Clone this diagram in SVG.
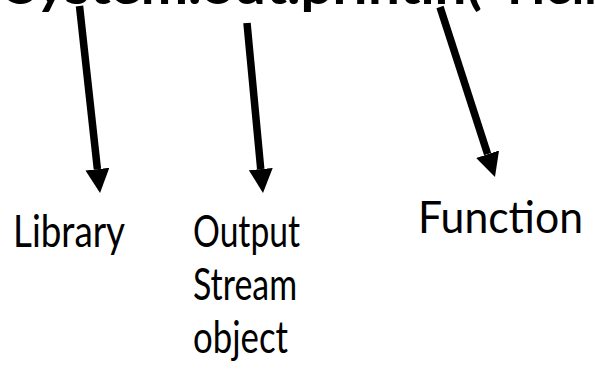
<svg xmlns="http://www.w3.org/2000/svg" width="595" height="372" viewBox="0 0 595 372">
<defs>
<style>
.code{font-family:Lato,"Open Sans","Liberation Sans",sans-serif;font-weight:bold;font-size:50px;fill:#000}
.lbl{font-family:Lato,"Open Sans","Liberation Sans",sans-serif;font-size:45px;fill:#000}
.conn{stroke:#000;stroke-width:7.5;fill:none;marker-end:url(#ah)}
</style>
<marker id="ah" viewBox="0 0 24 24" markerWidth="24" markerHeight="24" markerUnits="userSpaceOnUse" refX="0" refY="12" orient="auto">
<path d="M0,0 L24,12 L0,24 z" fill="#000"/>
</marker>
</defs>
<rect width="595" height="372" fill="#fff"/>
<g id="code">
<text class="code" x="6" y="4" textLength="476" lengthAdjust="spacingAndGlyphs">System.out.println(</text>
<text class="code" x="488" y="4">“Hello</text>
</g>
<g id="connectors">
<path class="conn" d="M79.5,6 L97.4,169.1"/>
<path class="conn" d="M247,23 L260.75,169.1"/>
<path class="conn" d="M440,7 L487.6,154.2"/>
</g>
<g id="library"><text class="lbl" x="13" y="247" textLength="112" lengthAdjust="spacingAndGlyphs">Library</text></g>
<g id="output">
<text class="lbl" x="193" y="247" textLength="107" lengthAdjust="spacingAndGlyphs">Output</text>
<text class="lbl" x="193" y="300" textLength="104" lengthAdjust="spacingAndGlyphs">Stream</text>
<text class="lbl" x="193" y="353" textLength="95" lengthAdjust="spacingAndGlyphs">object</text>
</g>
<g id="function"><text class="lbl" x="418" y="233" textLength="165" lengthAdjust="spacingAndGlyphs">Function</text></g>
</svg>
